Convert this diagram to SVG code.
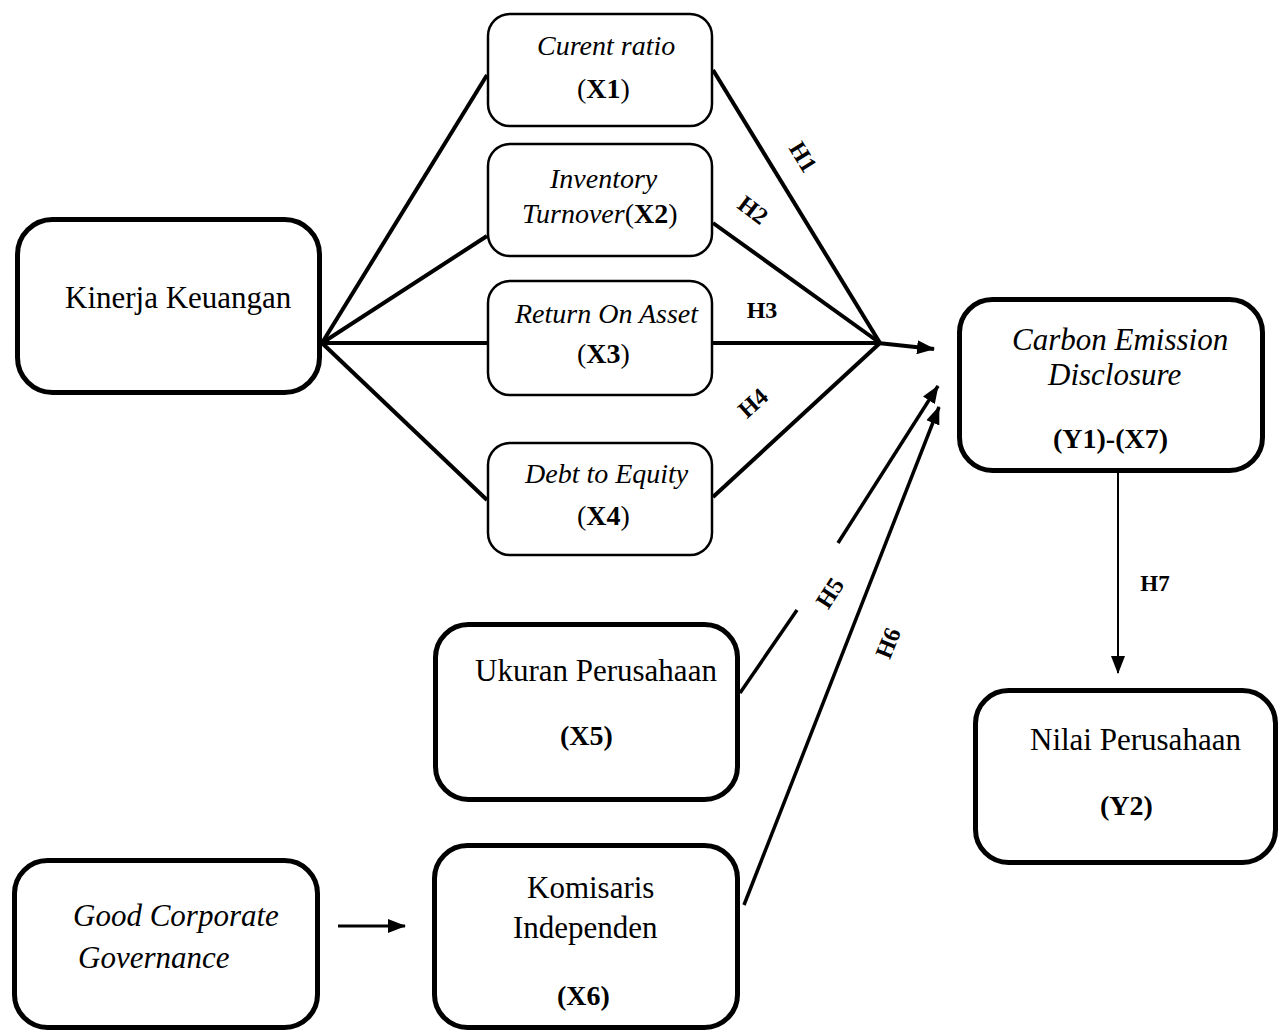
<svg xmlns="http://www.w3.org/2000/svg" width="1285" height="1032" viewBox="0 0 1285 1032">
<style>
  .big{fill:#fff;stroke:#000;stroke-width:5}
  .small{fill:#fff;stroke:#000;stroke-width:2.5}
  text{font-family:"Liberation Serif","Times New Roman",serif;fill:#000}
  .t31{font-size:31px}
  .t28{font-size:28px}
  .it{font-style:italic}
  .b{font-weight:bold}
  .h{font-size:24px;font-weight:bold}
  .ln{stroke:#000;fill:none;stroke-linecap:butt}
</style>
<defs>
  <marker id="ah2" viewBox="0 0 18 14" refX="17" refY="7" markerWidth="18" markerHeight="14" markerUnits="userSpaceOnUse" orient="auto">
    <path d="M0,0 L18,7 L0,14 z" fill="#000"/>
  </marker>
</defs>

<g id="connectors">
  <path class="ln" stroke-width="4" d="M322,343 L487,75"/>
  <path class="ln" stroke-width="4" d="M322,343 L487,236"/>
  <path class="ln" stroke-width="4" d="M322,343 L487,343"/>
  <path class="ln" stroke-width="4" d="M322,343 L487,500"/>
  <path class="ln" stroke-width="4" d="M713,70 L880,343"/>
  <path class="ln" stroke-width="4" d="M713,223 L880,343"/>
  <path class="ln" stroke-width="4" d="M713,343 L880,343"/>
  <path class="ln" stroke-width="4" d="M713,497 L880,343"/>
  <path class="ln" stroke-width="4" d="M878,343 L934,349" marker-end="url(#ah2)"/>
  <path class="ln" stroke-width="3.5" d="M740,693 L797,610"/>
  <path class="ln" stroke-width="3.5" d="M838,543 L938,386" marker-end="url(#ah2)"/>
  <path class="ln" stroke-width="3.5" d="M744,905 L939,407" marker-end="url(#ah2)"/>
  <path class="ln" stroke-width="2" d="M1118,473 L1118,673" marker-end="url(#ah2)"/>
  <path class="ln" stroke-width="3" d="M338,926 L405,926" marker-end="url(#ah2)"/>
  <text class="h" transform="translate(803,157) rotate(58.5)" text-anchor="middle" dy="8">H1</text>
  <text class="h" transform="translate(753,210) rotate(37)" text-anchor="middle" dy="8">H2</text>
  <text class="h" x="762" y="318" text-anchor="middle">H3</text>
  <text class="h" transform="translate(753,403) rotate(-42)" text-anchor="middle" dy="8">H4</text>
  <text class="h" transform="translate(830,593) rotate(-57)" text-anchor="middle" dy="8">H5</text>
  <text class="h" transform="translate(888,643) rotate(-68)" text-anchor="middle" dy="8">H6</text>
  <text class="h" x="1155" y="591" text-anchor="middle" style="font-size:23px">H7</text>
</g>

<g id="kinerja">
  <rect class="big" x="17.5" y="219.5" width="302" height="173" rx="35"/>
  <text class="t31" x="65" y="308">Kinerja Keuangan</text>
</g>
<g id="x1">
  <rect class="small" x="488" y="14" width="224" height="112" rx="22"/>
  <text class="t28 it" x="537" y="55">Curent ratio</text>
  <text class="t28" x="577" y="98">(<tspan class="b">X1</tspan>)</text>
</g>
<g id="x2">
  <rect class="small" x="488" y="144" width="224" height="112" rx="22"/>
  <text class="t28 it" x="550" y="188">Inventory</text>
  <text class="t28" x="522" y="223"><tspan class="it">Turnover</tspan>(<tspan class="b">X2</tspan>)</text>
</g>
<g id="x3">
  <rect class="small" x="488" y="281" width="224" height="114" rx="22"/>
  <text class="t28 it" x="515" y="323">Return On Asset</text>
  <text class="t28" x="577" y="363">(<tspan class="b">X3</tspan>)</text>
</g>
<g id="x4">
  <rect class="small" x="488" y="443" width="224" height="112" rx="22"/>
  <text class="t28 it" x="525" y="483">Debt to Equity</text>
  <text class="t28" x="577" y="525">(<tspan class="b">X4</tspan>)</text>
</g>
<g id="carbon">
  <rect class="big" x="959.5" y="299.5" width="303" height="171" rx="33"/>
  <text class="t31 it" x="1012" y="350">Carbon Emission</text>
  <text class="t31 it" x="1048" y="385">Disclosure</text>
  <text class="t28 b" x="1053" y="448">(Y1)-(X7)</text>
</g>
<g id="ukuran">
  <rect class="big" x="435.5" y="624.5" width="302" height="175" rx="33"/>
  <text class="t31" x="475" y="681">Ukuran Perusahaan</text>
  <text class="t28 b" x="560" y="745">(X5)</text>
</g>
<g id="nilai">
  <rect class="big" x="975.5" y="690.5" width="300" height="172" rx="33"/>
  <text class="t31" x="1030" y="750">Nilai Perusahaan</text>
  <text class="t28 b" x="1100" y="815">(Y2)</text>
</g>
<g id="gcg">
  <rect class="big" x="14.5" y="860.5" width="303" height="167" rx="33"/>
  <text class="t31 it" x="73" y="926">Good Corporate</text>
  <text class="t31 it" x="78" y="968">Governance</text>
</g>
<g id="komisaris">
  <rect class="big" x="434.5" y="845.5" width="303" height="182" rx="33"/>
  <text class="t31" x="527" y="898">Komisaris</text>
  <text class="t31" x="513" y="938">Independen</text>
  <text class="t28 b" x="557" y="1005">(X6)</text>
</g>
</svg>
